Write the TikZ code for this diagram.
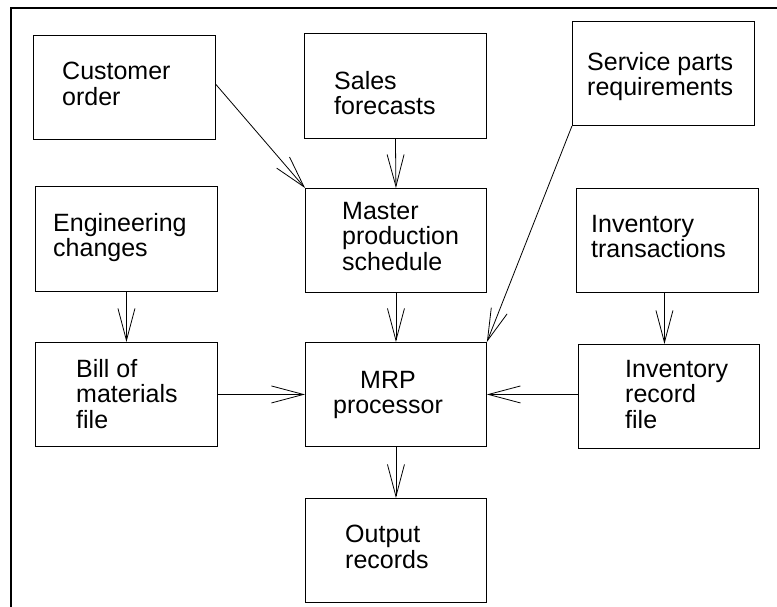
\documentclass[tikz,border=0pt]{standalone}
\usepackage{fontspec}
\setmainfont{Liberation Sans}
\usetikzlibrary{arrows.meta}
\begin{document}
\begin{tikzpicture}[x=1pt,y=-1pt,
  box/.style={draw, line width=0.9pt, inner sep=0pt, anchor=north west},
  lbl/.style={anchor=north west, inner sep=0pt, align=left, font=\fontsize{25}{25.5}\selectfont},
  clbl/.style={anchor=north, inner sep=0pt, align=center, font=\fontsize{25}{25.5}\selectfont},
  arr/.style={line width=0.8pt, -{Straight Barb[length=32pt, width=17pt, line width=0.8pt]}},
  frame/.style={line width=2.2pt}]
\useasboundingbox (0,0) rectangle (777,607);
\draw[frame] (11,612) -- (11,8) -- (782,8);
% boxes
\node[box, minimum width=182pt, minimum height=104pt] (co) at (33,35) {};
\node[box, minimum width=182pt, minimum height=105pt] (sf) at (304,33) {};
\node[box, minimum width=182pt, minimum height=104pt] (sp) at (572,21) {};
\node[box, minimum width=182pt, minimum height=105pt] (ec) at (35,186) {};
\node[box, minimum width=181pt, minimum height=104pt] (mps) at (305,188) {};
\node[box, minimum width=182pt, minimum height=104pt] (it) at (576,188) {};
\node[box, minimum width=182pt, minimum height=104pt] (bom) at (35,342) {};
\node[box, minimum width=181pt, minimum height=104pt] (mrp) at (305,342) {};
\node[box, minimum width=181pt, minimum height=104pt] (ir) at (578,344) {};
\node[box, minimum width=181pt, minimum height=104pt] (out) at (305,498) {};
% texts
\node[lbl] (tco) at (62,62) {Customer\\order};
\node[lbl] (tsf) at (334,71) {Sales\\forecasts};
\node[lbl] (tsp) at (587,52) {Service parts\\requirements};
\node[lbl] (tec) at (53,213) {Engineering\\changes};
\node[lbl] (tmps) at (342,202) {Master\\production\\schedule};
\node[lbl] (tit) at (591,215) {Inventory\\transactions};
\node[lbl] (tbom) at (76,359) {Bill of\\materials\\file};
\node[clbl] (tmrp) at (388,371) {MRP\\processor};
\node[lbl] (tir) at (625,360) {Inventory\\record\\file};
\node[lbl] (tout) at (345,525) {Output\\records};
% connectors
\draw[arr] ([yshift=3pt]co.east) -- (mps.north west);
\draw[arr] (sf.south) -- (mps.north);
\draw[arr] (sp.south west) -- (mrp.north east);
\draw[arr] (ec.south) -- (bom.north);
\draw[arr] (mps.south) -- (mrp.north);
\draw[arr] ([xshift=-3pt]it.south) -- ([xshift=-3pt]it.south |- ir.north);
\draw[arr] (bom.east) -- (bom.east -| mrp.west);
\draw[arr] ([yshift=2pt]ir.west) -- ([yshift=2pt]ir.west -| mrp.east);
\draw[arr] (mrp.south) -- (out.north);
\end{tikzpicture}
\end{document}
